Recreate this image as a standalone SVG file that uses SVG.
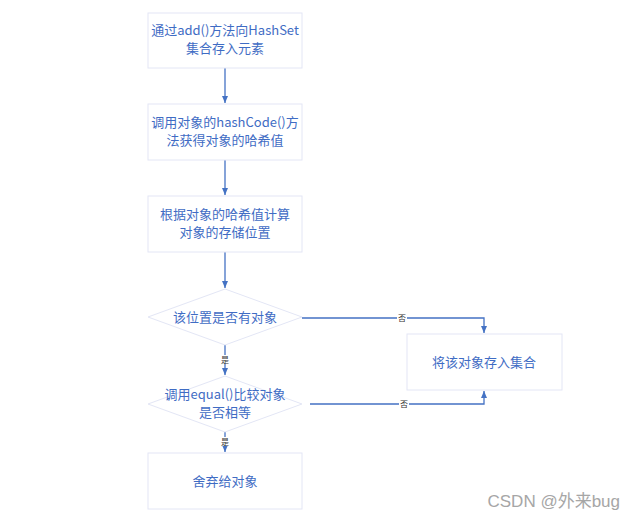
<svg xmlns="http://www.w3.org/2000/svg" width="634" height="520" viewBox="0 0 634 520">
<style>
.box{fill:#fff;stroke:#e3e6f5;stroke-width:1}
.t{font-family:"Noto Sans CJK SC","Noto Sans",sans-serif;font-size:13px;fill:#3f6cc4;text-anchor:middle}
.c{fill:none;stroke:#4472c4;stroke-width:1.3}
.lbl{font-family:"Noto Sans CJK SC",sans-serif;font-size:8px;fill:#333;text-anchor:middle}
.lb{fill:#fff}
</style>
<defs>
<marker id="ah" markerWidth="8" markerHeight="8" refX="7" refY="4" orient="auto" markerUnits="userSpaceOnUse">
<path d="M0,1 L7,4 L0,7 Z" fill="#4472c4"/>
</marker>
</defs>
<rect width="634" height="520" fill="#fff"/>
<g id="connectors">
<path class="c" d="M225,68 V103" marker-end="url(#ah)"/>
<path class="c" d="M225,160 V195" marker-end="url(#ah)"/>
<path class="c" d="M225,252 V288" marker-end="url(#ah)"/>
<path class="c" d="M225,345 V375" marker-end="url(#ah)"/>
<path class="c" d="M225,432 V452" marker-end="url(#ah)"/>
<path class="c" d="M302,318 H484 V333" marker-end="url(#ah)"/>
<path class="c" d="M310,404 H484 V391" marker-end="url(#ah)"/>
<rect class="lb" x="220" y="355" width="10" height="9"/>
<text class="lbl" x="225" y="363">是</text>
<rect class="lb" x="220" y="437" width="10" height="9"/>
<text class="lbl" x="225" y="445">是</text>
<rect class="lb" x="397" y="313" width="10" height="9"/>
<text class="lbl" x="402" y="321">否</text>
<rect class="lb" x="399" y="399" width="10" height="9"/>
<text class="lbl" x="404" y="407">否</text>
</g>
<g id="n1">
<rect class="box" x="148" y="13" width="154" height="55"/>
<text class="t" x="225" y="35">通过add()方法向HashSet</text>
<text class="t" x="225" y="53">集合存入元素</text>
</g>
<g id="n2">
<rect class="box" x="148" y="104" width="154" height="56"/>
<text class="t" x="225" y="127">调用对象的hashCode()方</text>
<text class="t" x="225" y="145">法获得对象的哈希值</text>
</g>
<g id="n3">
<rect class="box" x="148" y="196" width="154" height="56"/>
<text class="t" x="225" y="219">根据对象的哈希值计算</text>
<text class="t" x="225" y="237">对象的存储位置</text>
</g>
<g id="n4">
<polygon class="box" points="225,289 302,317 225,345 148,317"/>
<text class="t" x="225" y="322">该位置是否有对象</text>
</g>
<g id="n5">
<polygon class="box" points="225,376 302,404 225,432 148,404"/>
<text class="t" x="225" y="399">调用equal()比较对象</text>
<text class="t" x="225" y="417">是否相等</text>
</g>
<g id="n6">
<rect class="box" x="148" y="453" width="154" height="56"/>
<text class="t" x="225" y="486">舍弃给对象</text>
</g>
<g id="n7">
<rect class="box" x="407" y="334" width="155" height="56"/>
<text class="t" x="484" y="367">将该对象存入集合</text>
</g>
<text x="620" y="507" font-family="'Liberation Sans','Noto Sans CJK SC',sans-serif" font-size="17" fill="#a6a6a6" text-anchor="end">CSDN @外来bug</text>
</svg>
